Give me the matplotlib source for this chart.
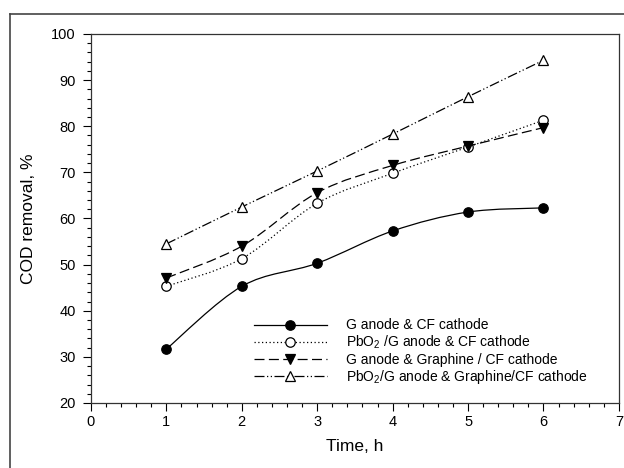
import numpy as np
import matplotlib
matplotlib.use("Agg")
import matplotlib.pyplot as plt
from matplotlib.path import Path
from matplotlib.patches import PathPatch
from matplotlib.lines import Line2D
from matplotlib.ticker import MultipleLocator

plt.rcParams["font.family"] = ["Liberation Sans", "DejaVu Sans"]
plt.rcParams["mathtext.fontset"] = "custom"
plt.rcParams["mathtext.rm"] = "Liberation Sans"
plt.rcParams["mathtext.it"] = "Liberation Sans:italic"

time_h = [1, 2, 3, 4, 5, 6]
g_cf = [31.7, 45.3, 50.3, 57.3, 61.4, 62.3]
pbo2_cf = [45.3, 51.3, 63.3, 69.8, 75.5, 81.3]
g_graph_cf = [47.1, 54.0, 65.6, 71.5, 75.7, 79.7]
pbo2_graph_cf = [54.5, 62.5, 70.3, 78.3, 86.4, 94.3]

labels = [
    "G anode & CF cathode",
    "PbO$_2$ /G anode & CF cathode",
    "G anode & Graphine / CF cathode",
    "PbO$_2$/G anode & Graphine/CF cathode",
]
series = [g_cf, pbo2_cf, g_graph_cf, pbo2_graph_cf]
markers = ["o", "o", "v", "^"]
faces = ["black", "white", "black", "white"]
dashes = [None, (1, 2), (8, 3.5), (8, 2, 1, 2, 1, 2)]


def smooth_path(x, y):
    # Catmull-Rom curve through the points, written as cubic Bezier segments
    p = np.column_stack([x, y]).astype(float)
    ext = np.vstack([p[0], p, p[-1]])
    verts = [p[0]]
    codes = [Path.MOVETO]
    for i in range(1, len(ext) - 2):
        c1 = ext[i] + (ext[i + 1] - ext[i - 1]) / 6
        c2 = ext[i + 1] - (ext[i + 2] - ext[i]) / 6
        verts += [c1, c2, ext[i + 1]]
        codes += [Path.CURVE4] * 3
    return Path(verts, codes)


fig = plt.figure(figsize=(6.24, 4.68), dpi=100)
ax = fig.add_axes([0.1458, 0.1389, 0.846, 0.7885])

handles = []
for vals, lab, m, fc, ds in zip(series, labels, markers, faces, dashes):
    patch = PathPatch(smooth_path(time_h, vals), facecolor="none",
                      edgecolor="black", lw=0.9, zorder=2)
    if ds is not None:
        patch.set_linestyle((0, ds))
    ax.add_patch(patch)
    ax.plot(time_h, vals, linestyle="none", marker=m, ms=6.8,
            mfc=fc, mec="black", mew=0.9, zorder=3)
    h = Line2D([], [], color="black", lw=0.9, marker=m, ms=6.8,
               mfc=fc, mec="black", mew=0.9)
    if ds is not None:
        h.set_dashes(ds)
    handles.append(h)

ax.set_xlim(0, 7)
ax.set_ylim(20, 100)
ax.xaxis.set_major_locator(MultipleLocator(1))
ax.xaxis.set_minor_locator(MultipleLocator(0.2))
ax.yaxis.set_major_locator(MultipleLocator(10))
ax.yaxis.set_minor_locator(MultipleLocator(2))
ax.tick_params(which="both", direction="out", top=False, right=False,
               labelsize=10.5, width=0.8)
ax.tick_params(which="major", length=6)
ax.tick_params(which="minor", length=3)
ax.tick_params(axis="x", which="major", pad=3)
ax.tick_params(axis="y", which="major", pad=5)
for s in ax.spines.values():
    s.set_linewidth(0.9)
    s.set_color("#333333")

ax.set_xlabel("Time, h", fontsize=12.5, labelpad=7)
ax.set_ylabel("COD removal, %", fontsize=12.5, labelpad=11)

ax.legend(handles, labels, loc="lower left", bbox_to_anchor=(0.2975, 0.031),
          frameon=False, fontsize=10, handlelength=5.3, handletextpad=1.37,
          labelspacing=0.1, borderaxespad=0, numpoints=1)

# frame around the figure (top and left edges)
fig.add_artist(Line2D([0.016, 0.016], [0.0, 0.970], color="#444444", lw=1.2,
                      transform=fig.transFigure))
fig.add_artist(Line2D([0.016, 1.0], [0.970, 0.970], color="#444444", lw=1.2,
                      transform=fig.transFigure))

fig.savefig("out.png", dpi=100)
